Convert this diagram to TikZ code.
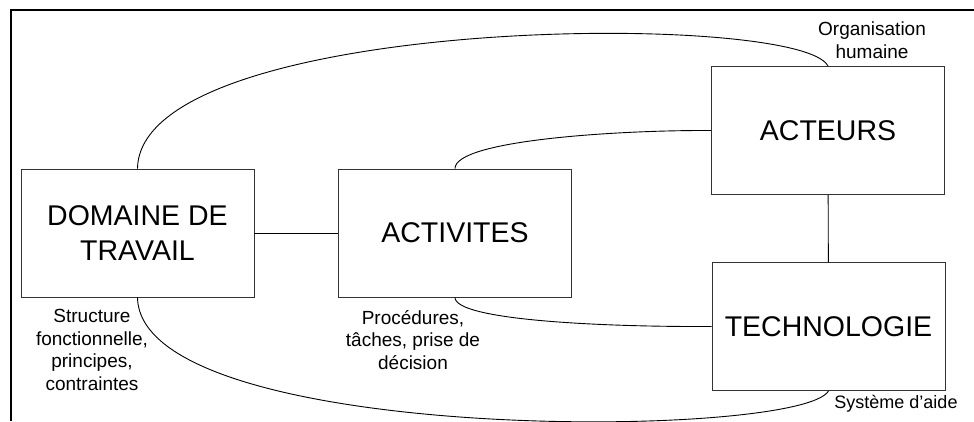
\documentclass[tikz,border=0pt]{standalone}
\usepackage{fontspec}
\setmainfont{Liberation Sans}
\begin{document}
\begin{tikzpicture}[
    x=1pt, y=-1pt,
    bigbox/.style={rectangle, draw=black!80, line width=0.9pt, minimum width=233pt, minimum height=128pt, inner sep=0pt, align=center, font=\fontsize{28.5}{35}\selectfont},
    link/.style={draw=black, line width=0.9pt},
    frameline/.style={draw=black, line width=2.6pt},
    notelbl/.style={align=center, font=\fontsize{19}{22.5}\selectfont}
]
\useasboundingbox (0,0) rectangle (974,421);

%  -- Frame (top and left edges only)  --
\draw[frameline] (974,10) -- (11,10) -- (11,421);

%  -- Boxes  --
\node[bigbox] (dom)  at (137.5, 233) {DOMAINE DE\\TRAVAIL};
\node[bigbox] (acti) at (455, 233)   {ACTIVITES};
\node[bigbox] (act)  at (828, 130.5) {ACTEURS};
\node[bigbox] (tech) at (828.5, 326.5) {TECHNOLOGIE};

%  -- Straight links  --
\draw[link] (dom) -- (acti);
\draw[link] (act) -- (tech);

%  -- Curved links  --
\draw[link] (dom.north) .. controls (140,15) and (800,10) .. (act.north);
\draw[link] (acti.north) .. controls (455,140) and (620,130) .. (act.west);
\draw[link] (acti.south) .. controls (455,320) and (600,327) .. (tech.west);
\draw[link] (dom.south) .. controls (140,445) and (800,440) .. (tech.south);

%  -- Notes  --
\node[notelbl] (orgnote)  at (872, 40)  {Organisation\\humaine};
\node[notelbl] (domnote)  at (92, 350)  {Structure\\fonctionnelle,\\principes,\\contraintes};
\node[notelbl] (actinote) at (413, 340) {Procédures,\\tâches, prise de\\décision};
\node[notelbl, font=\fontsize{18}{21}\selectfont] (technote) at (896, 404) {Système d’aide};

\end{tikzpicture}
\end{document}
